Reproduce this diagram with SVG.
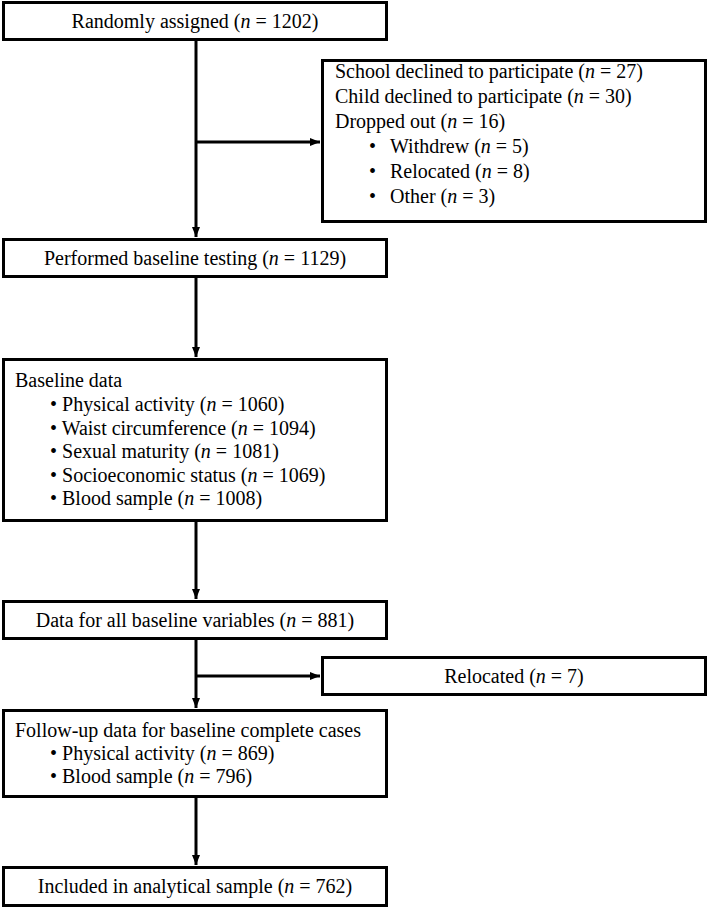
<svg xmlns="http://www.w3.org/2000/svg" width="708" height="908" viewBox="0 0 708 908">
<defs>
<style>
.box{fill:#fff;stroke:#000;stroke-width:3}
.t{font-family:"Liberation Serif","Times New Roman",serif;font-size:20px;fill:#000}
.c{text-anchor:middle}
.i{font-style:italic}
.ln{stroke:#000;stroke-width:3;fill:none}
</style>
<marker id="ah" viewBox="0 0 10 8" refX="10" refY="4" markerWidth="10" markerHeight="8" markerUnits="userSpaceOnUse" orient="auto">
<path d="M0,0 L10,4 L0,8 Z" fill="#000"/>
</marker>
</defs>
<g id="connectors">
<line class="ln" x1="196" y1="40" x2="196" y2="237" marker-end="url(#ah)"/>
<line class="ln" x1="196" y1="142" x2="320" y2="142" marker-end="url(#ah)"/>
<line class="ln" x1="196" y1="278" x2="196" y2="357" marker-end="url(#ah)"/>
<line class="ln" x1="196" y1="522" x2="196" y2="599" marker-end="url(#ah)"/>
<line class="ln" x1="196" y1="640" x2="196" y2="708" marker-end="url(#ah)"/>
<line class="ln" x1="196" y1="676" x2="320" y2="676" marker-end="url(#ah)"/>
<line class="ln" x1="196" y1="798" x2="196" y2="865" marker-end="url(#ah)"/>
</g>
<g id="randomly-assigned">
<rect class="box" x="3.5" y="2.5" width="383" height="37"/>
<text class="t c" x="195" y="28">Randomly assigned (<tspan class="i">n</tspan> = 1202)</text>
</g>
<g id="excluded">
<rect class="box" x="322.5" y="60.5" width="383" height="161"/>
<text class="t" x="335" y="78">School declined to participate (<tspan class="i">n</tspan> = 27)</text>
<text class="t" x="335" y="103">Child declined to participate (<tspan class="i">n</tspan> = 30)</text>
<text class="t" x="335" y="128">Dropped out (<tspan class="i">n</tspan> = 16)</text>
<text class="t" x="369" y="153">•</text><text class="t" x="390" y="153">Withdrew (<tspan class="i">n</tspan> = 5)</text>
<text class="t" x="369" y="178">•</text><text class="t" x="390" y="178">Relocated (<tspan class="i">n</tspan> = 8)</text>
<text class="t" x="369" y="203">•</text><text class="t" x="390" y="203">Other (<tspan class="i">n</tspan> = 3)</text>
</g>
<g id="baseline-testing">
<rect class="box" x="3.5" y="239.5" width="383" height="37"/>
<text class="t c" x="195" y="265">Performed baseline testing (<tspan class="i">n</tspan> = 1129)</text>
</g>
<g id="baseline-data">
<rect class="box" x="3.5" y="359.5" width="383" height="161"/>
<text class="t" x="15" y="387">Baseline data</text>
<text class="t" x="50" y="411">• Physical activity (<tspan class="i">n</tspan> = 1060)</text>
<text class="t" x="50" y="435">• Waist circumference (<tspan class="i">n</tspan> = 1094)</text>
<text class="t" x="50" y="458">• Sexual maturity (<tspan class="i">n</tspan> = 1081)</text>
<text class="t" x="50" y="482">• Socioeconomic status (<tspan class="i">n</tspan> = 1069)</text>
<text class="t" x="50" y="505">• Blood sample (<tspan class="i">n</tspan> = 1008)</text>
</g>
<g id="all-baseline">
<rect class="box" x="3.5" y="601.5" width="383" height="37"/>
<text class="t c" x="195" y="627">Data for all baseline variables (<tspan class="i">n</tspan> = 881)</text>
</g>
<g id="relocated">
<rect class="box" x="322.5" y="657.5" width="383" height="37"/>
<text class="t c" x="514" y="683">Relocated (<tspan class="i">n</tspan> = 7)</text>
</g>
<g id="follow-up">
<rect class="box" x="3.5" y="710.5" width="383" height="86"/>
<text class="t" x="15" y="737">Follow-up data for baseline complete cases</text>
<text class="t" x="50" y="760">• Physical activity (<tspan class="i">n</tspan> = 869)</text>
<text class="t" x="50" y="783">• Blood sample (<tspan class="i">n</tspan> = 796)</text>
</g>
<g id="analytical-sample">
<rect class="box" x="3.5" y="867.5" width="383" height="38"/>
<text class="t c" x="195" y="893">Included in analytical sample (<tspan class="i">n</tspan> = 762)</text>
</g>
</svg>
